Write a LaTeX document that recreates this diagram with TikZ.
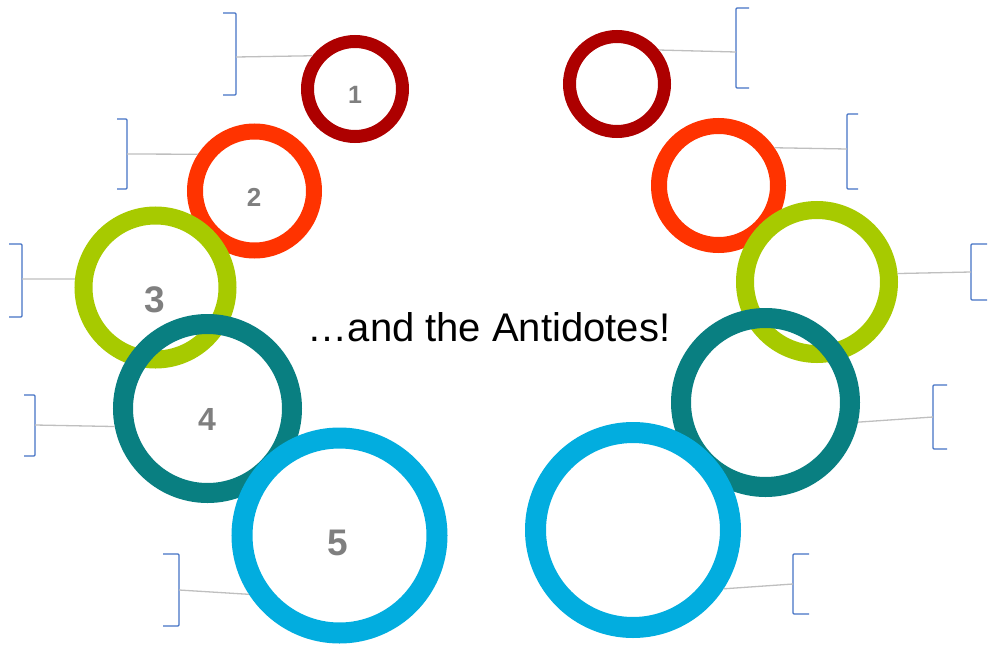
\documentclass[tikz,border=0pt]{standalone}
\usepackage{fontspec}
\setmainfont{Liberation Sans}
\usepackage{xcolor}
\definecolor{ringA}{HTML}{AD0000}
\definecolor{ringB}{HTML}{FF3300}
\definecolor{ringC}{HTML}{A7CA00}
\definecolor{ringD}{HTML}{097F81}
\definecolor{ringE}{HTML}{02ADDF}
\definecolor{brkcol}{HTML}{4472C4}
\definecolor{linkcol}{HTML}{BFBFBF}
\definecolor{numcol}{HTML}{7F7F7F}

\begin{document}
\begin{tikzpicture}[x=1pt, y=-1pt,
  ring/.style={circle, draw, inner sep=0pt},
  ringone/.style={ring, draw=ringA, line width=13pt, minimum size=95pt},
  ringtwo/.style={ring, draw=ringB, line width=16pt, minimum size=119pt},
  ringthree/.style={ring, draw=ringC, line width=18pt, minimum size=144pt},
  ringfour/.style={ring, draw=ringD, line width=20pt, minimum size=169pt},
  ringfive/.style={ring, draw=ringE, line width=21pt, minimum size=195pt},
  num/.style={font=\bfseries, text=numcol, inner sep=0pt},
  brk/.style={draw=brkcol, line width=1.3pt, rounded corners=1pt},
  link/.style={draw=linkcol, line width=1.3pt}]
  \useasboundingbox (0,0) rectangle (989,648);
  % left rings
  \node[ringone] (l1) at (355,89) {};
  \node[ringtwo] (l2) at (254.5,191) {};
  \node[ringthree] (l3) at (155.5,287.5) {};
  \node[ringfour] (l4) at (207.5,408.5) {};
  \node[ringfive] (l5) at (339.5,535.5) {};
  \node[num, font=\bfseries\fontsize{25}{25}\selectfont] (n1) at (355,95) {1};
  \node[num, font=\bfseries\fontsize{26}{26}\selectfont] (n2) at (254,197) {2};
  \node[num, font=\bfseries\fontsize{37}{37}\selectfont] (n3) at (155,300) {3};
  \node[num, font=\bfseries\fontsize{32}{32}\selectfont] (n4) at (207,419) {4};
  \node[num, font=\bfseries\fontsize{37}{37}\selectfont] (n5) at (338,543) {5};
  % right rings
  \node[ringone] (r1) at (617,84) {};
  \node[ringtwo] (r2) at (718.5,185.5) {};
  \node[ringthree] (r3) at (817,282) {};
  \node[ringfour] (r4) at (765.5,402.5) {};
  \node[ringfive] (r5) at (633,530) {};
  % title
  \node[font=\fontsize{40}{44}\selectfont] (title) at (489,327) {…and the Antidotes!};
  % brackets, left
  \draw[brk] (223,13) -- (236,13) -- (236,95) -- (223,95);
  \draw[brk] (117,119) -- (127,119) -- (127,189) -- (117,189);
  \draw[brk] (9,244) -- (22,244) -- (22,317) -- (9,317);
  \draw[brk] (24,395) -- (35,395) -- (35,456) -- (24,456);
  \draw[brk] (163,554) -- (179,554) -- (179,626) -- (163,626);
  \coordinate (bl1) at (236,57);
  \coordinate (bl2) at (127,154);
  \coordinate (bl3) at (22,279);
  \coordinate (bl4) at (35,425);
  \coordinate (bl5) at (179,590);
  % brackets, right
  \draw[brk] (749,8) -- (736,8) -- (736,88) -- (749,88);
  \draw[brk] (858,114) -- (847,114) -- (847,189) -- (858,189);
  \draw[brk] (987,244) -- (971,244) -- (971,300) -- (987,300);
  \draw[brk] (947,385) -- (933,385) -- (933,449) -- (947,449);
  \draw[brk] (809,554) -- (793,554) -- (793,614) -- (809,614);
  \coordinate (br1) at (736,52);
  \coordinate (br2) at (847,149);
  \coordinate (br3) at (971,272);
  \coordinate (br4) at (933,417);
  \coordinate (br5) at (793,584);
  % links
  \draw[link] (l1.142) -- (bl1);
  \draw[link] (l2.147) -- (bl2);
  \draw[link] (l3.174) -- (bl3);
  \draw[link] (l4.191) -- (bl4);
  \draw[link] (l5.213) -- (bl5);
  \draw[link] (r1.39) -- (br1);
  \draw[link] (r2.34) -- (br2);
  \draw[link] (r3.6) -- (br3);
  \draw[link] (r4.-12) -- (br4);
  \draw[link] (r5.-33) -- (br5);
\end{tikzpicture}
\end{document}
